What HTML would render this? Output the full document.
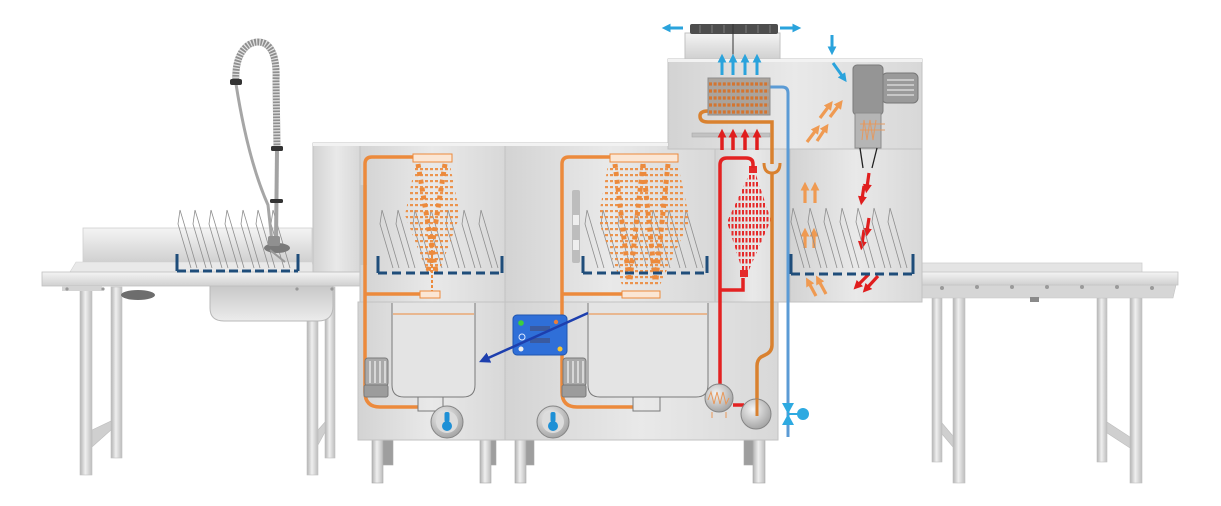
<!DOCTYPE html>
<html><head><meta charset="utf-8"><style>html,body{margin:0;padding:0;background:#fff;}svg{display:block}</style></head>
<body>
<svg width="1221" height="506" viewBox="0 0 1221 506" xmlns="http://www.w3.org/2000/svg">
<defs>
 <linearGradient id="gp" x1="0" x2="1" y1="0" y2="0"><stop offset="0" stop-color="#d3d3d3"/><stop offset="0.5" stop-color="#e9e9e9"/><stop offset="1" stop-color="#d8d8d8"/></linearGradient>
 <linearGradient id="gv" x1="0" x2="0" y1="0" y2="1"><stop offset="0" stop-color="#f4f4f4"/><stop offset="1" stop-color="#d0d0d0"/></linearGradient>
 <linearGradient id="gs" x1="0" x2="0" y1="0" y2="1"><stop offset="0" stop-color="#c8c8c8"/><stop offset="1" stop-color="#ececec"/></linearGradient>
 <linearGradient id="gl" x1="0" x2="1"><stop offset="0" stop-color="#b3b3b3"/><stop offset="0.45" stop-color="#efefef"/><stop offset="1" stop-color="#bcbcbc"/></linearGradient>
 <radialGradient id="gc" cx="0.4" cy="0.35" r="0.75"><stop offset="0" stop-color="#f4f4f4"/><stop offset="1" stop-color="#9a9a9a"/></radialGradient>
 <pattern id="po" width="5" height="6" patternUnits="userSpaceOnUse"><rect x="0" y="0" width="3" height="2.2" fill="#ec8a3c"/></pattern>
 <pattern id="pr" width="3.5" height="7" patternUnits="userSpaceOnUse"><rect x="0" y="0" width="2" height="4.5" fill="#e52a2a"/></pattern>
 <marker id="mo" viewBox="0 0 10 10" refX="3" refY="5" markerWidth="9" markerHeight="9" markerUnits="userSpaceOnUse" orient="auto"><path d="M0,0 L10,5 L0,10 Z" fill="#ef9a52"/></marker>
 <marker id="mr" viewBox="0 0 10 10" refX="3" refY="5" markerWidth="9" markerHeight="9" markerUnits="userSpaceOnUse" orient="auto"><path d="M0,0 L10,5 L0,10 Z" fill="#e01e1e"/></marker>
 <marker id="mc" viewBox="0 0 10 10" refX="3" refY="5" markerWidth="9" markerHeight="9" markerUnits="userSpaceOnUse" orient="auto"><path d="M0,0 L10,5 L0,10 Z" fill="#2aa3dc"/></marker>
 <marker id="mb" viewBox="0 0 10 10" refX="3" refY="5" markerWidth="11" markerHeight="11" markerUnits="userSpaceOnUse" orient="auto"><path d="M0,0 L10,5 L0,10 Z" fill="#1d3fae"/></marker>
</defs>

<!-- ===== LEFT TABLE ===== -->
<rect x="111" y="287" width="11" height="171" fill="url(#gl)" stroke="#c2c2c2" stroke-width="0.6"/>
<rect x="325" y="287" width="10" height="171" fill="url(#gl)" stroke="#c2c2c2" stroke-width="0.6"/>
<polygon points="92,430 111,421 111,430 92,447" fill="#cfcfcf" stroke="#bdbdbd" stroke-width="0.6"/>
<polygon points="318,430 325,422 325,432 318,445" fill="#cfcfcf" stroke="#bdbdbd" stroke-width="0.6"/>
<rect x="80" y="287" width="12" height="188" fill="url(#gl)" stroke="#c2c2c2" stroke-width="0.6"/>
<rect x="307" y="287" width="11" height="188" fill="url(#gl)" stroke="#c2c2c2" stroke-width="0.6"/>
<rect x="83" y="228" width="229" height="34" fill="url(#gv)" stroke="#cfcfcf" stroke-width="0.8"/>
<polygon points="76,262 312,262 315,272 70,272" fill="#e9e9e9" stroke="#d2d2d2" stroke-width="0.6"/>
<path d="M210,286 L210,308 Q210,321 224,321 L318,321 Q333,321 333,306 L333,286 Z" fill="url(#gs)" stroke="#b8b8b8"/>
<ellipse cx="138" cy="295" rx="17" ry="5" fill="#6d6d6d"/>
<rect x="42" y="272" width="318" height="14" fill="url(#gv)" stroke="#c0c0c0" stroke-width="0.8"/>
<rect x="62" y="286" width="40" height="5" fill="#d4d4d4"/>
<circle cx="67" cy="289" r="1.6" fill="#999"/><circle cx="103" cy="289" r="1.6" fill="#999"/>
<circle cx="297" cy="289" r="1.6" fill="#999"/><circle cx="332" cy="289" r="1.6" fill="#999"/>

<!-- plates left -->
<g stroke="#8e8e8e" stroke-width="0.8" fill="none">
<path d="M180,210 L183,220 L197,268 M180,210 L178,224 L191,268 M195,210 L198,220 L212,268 M195,210 L193,224 L206,268 M211,210 L214,220 L228,268 M211,210 L209,224 L222,268 M227,210 L230,220 L244,268 M227,210 L225,224 L238,268 M243,210 L246,220 L260,268 M243,210 L241,224 L254,268 M258,210 L261,220 L275,268 M258,210 L256,224 L269,268 M273,210 L276,220 L290,268 M273,210 L271,224 L284,268"/>
</g>
<!-- faucet -->
<path d="M236,84 Q248,160 268,205 L272,242" stroke="#a6a6a6" stroke-width="3" fill="none"/>
<line x1="277" y1="150" x2="276" y2="242" stroke="#a3a3a3" stroke-width="4"/>
<path d="M236,84 C234,55 246,42 258,42 C272,42 277,58 276,80 L277,148" stroke="#8f8f8f" stroke-width="7" fill="none"/>
<path d="M236,84 C234,55 246,42 258,42 C272,42 277,58 276,80 L277,148" stroke="#e4e4e4" stroke-width="7" fill="none" stroke-dasharray="1.2 1.8"/>
<rect x="230" y="79" width="12" height="6" rx="2" fill="#333"/>
<rect x="271" y="146" width="12" height="5" rx="1.5" fill="#333"/>
<rect x="270" y="199" width="13" height="4" rx="1.5" fill="#333"/>
<ellipse cx="277" cy="248" rx="13" ry="5" fill="#7a7a7a"/>
<rect x="268" y="236" width="12" height="10" rx="2" fill="#909090"/>
<line x1="270" y1="250" x2="285" y2="262" stroke="#999" stroke-width="2"/>
<!-- left rack -->
<g stroke="#1f4d7a" stroke-width="3" fill="none">
<path d="M177,254 V271 M298,254 V271"/>
<line x1="177" y1="271" x2="298" y2="271" stroke-dasharray="9 4"/>
</g>

<!-- ===== RIGHT TABLE ===== -->
<rect x="932" y="298" width="10" height="164" fill="url(#gl)" stroke="#c2c2c2" stroke-width="0.6"/>
<rect x="1097" y="298" width="10" height="164" fill="url(#gl)" stroke="#c2c2c2" stroke-width="0.6"/>
<polygon points="942,423 953,436 953,447 942,434" fill="#cfcfcf" stroke="#bdbdbd" stroke-width="0.6"/>
<polygon points="1107,422 1130,437 1130,448 1107,433" fill="#cfcfcf" stroke="#bdbdbd" stroke-width="0.6"/>
<rect x="953" y="283" width="12" height="200" fill="url(#gl)" stroke="#c2c2c2" stroke-width="0.6"/>
<rect x="1130" y="283" width="12" height="200" fill="url(#gl)" stroke="#c2c2c2" stroke-width="0.6"/>
<rect x="922" y="263" width="220" height="10" fill="#e4e4e4" stroke="#cfcfcf" stroke-width="0.8"/>
<polygon points="922,285 1176,285 1173,298 922,298" fill="#d6d6d6" stroke="#c4c4c4" stroke-width="0.6"/>
<rect x="922" y="272" width="256" height="13" fill="url(#gv)" stroke="#c5c5c5" stroke-width="0.8"/>
<g fill="#9a9a9a"><circle cx="942" cy="288" r="2"/><circle cx="977" cy="287" r="2"/><circle cx="1012" cy="287" r="2"/><circle cx="1047" cy="287" r="2"/><circle cx="1082" cy="287" r="2"/><circle cx="1117" cy="287" r="2"/><circle cx="1152" cy="288" r="2"/></g>
<rect x="1030" y="297" width="9" height="5" fill="#8a8a8a"/>

<!-- ===== MACHINE LEGS ===== -->
<g stroke="#a8a8a8" stroke-width="0.6">
<rect x="383" y="440" width="10" height="25" fill="#9e9e9e"/>
<rect x="372" y="440" width="11" height="43" fill="url(#gl)"/>
<rect x="490" y="440" width="6" height="25" fill="#9e9e9e"/>
<rect x="480" y="440" width="11" height="43" fill="url(#gl)"/>
<rect x="526" y="440" width="8" height="25" fill="#9e9e9e"/>
<rect x="515" y="440" width="11" height="43" fill="url(#gl)"/>
<rect x="744" y="440" width="9" height="25" fill="#9e9e9e"/>
<rect x="753" y="440" width="12" height="43" fill="url(#gl)"/>
</g>

<!-- ===== MACHINE BODY ===== -->
<g stroke="#c2c2c2" stroke-width="1">
<rect x="313" y="143" width="47" height="129" fill="url(#gp)"/>
<rect x="360" y="143" width="145" height="159" fill="url(#gp)"/>
<rect x="358" y="302" width="147" height="138" fill="url(#gp)"/>
<rect x="505" y="143" width="210" height="159" fill="url(#gp)"/>
<rect x="505" y="302" width="273" height="138" fill="url(#gp)"/>
<rect x="715" y="148" width="75" height="154" fill="url(#gp)"/>
<rect x="790" y="148" width="132" height="154" fill="url(#gp)"/>
<rect x="668" y="59" width="254" height="90" fill="url(#gp)"/>
<rect x="685" y="33" width="95" height="26" fill="url(#gv)"/>
</g>
<rect x="690" y="24" width="88" height="10" rx="2" fill="#4d4d4d"/>
<g stroke="#8a8a8a" stroke-width="0.8"><line x1="700" y1="25" x2="700" y2="33"/><line x1="712" y1="25" x2="712" y2="33"/><line x1="724" y1="25" x2="724" y2="33"/><line x1="746" y1="25" x2="746" y2="33"/><line x1="758" y1="25" x2="758" y2="33"/><line x1="770" y1="25" x2="770" y2="33"/></g>
<line x1="733" y1="24" x2="733" y2="58" stroke="#333" stroke-width="1"/>
<!-- top caps -->
<g fill="#f2f2f2"><rect x="313" y="143" width="192" height="3"/><rect x="505" y="143" width="163" height="3"/><rect x="668" y="59" width="254" height="3"/></g>
<!-- door hinge / handle -->
<rect x="360" y="185" width="7" height="80" fill="#c7c7c7"/>
<rect x="572" y="190" width="8" height="73" rx="2" fill="#bdbdbd"/>
<rect x="573" y="215" width="6" height="10" fill="#eee"/><rect x="573" y="240" width="6" height="10" fill="#eee"/>

<!-- ===== MODULE 1 ===== -->
<path d="M382,210 L385,220 L399,268 M382,210 L380,224 L393,268 M398,210 L401,220 L415,268 M398,210 L396,224 L409,268 M415,210 L418,220 L432,268 M415,210 L413,224 L426,268 M431,210 L434,220 L448,268 M431,210 L429,224 L442,268 M448,210 L451,220 L465,268 M448,210 L446,224 L459,268 M464,210 L467,220 L481,268 M464,210 L462,224 L475,268 M481,210 L484,220 L498,268 M481,210 L479,224 L492,268" stroke="#8e8e8e" stroke-width="0.8" fill="none"/>
<polygon points="415,165 450,165 460,215 438,275 428,275 405,215" fill="url(#po)" opacity="0.9"/>
<g stroke="#ec8a3c" fill="none">
<line x1="418" y1="164" x2="436" y2="272" stroke-width="5" stroke-dasharray="4 4"/>
<line x1="445" y1="164" x2="428" y2="272" stroke-width="5" stroke-dasharray="4 4"/>
<line x1="432" y1="250" x2="432" y2="291" stroke-width="2" stroke-dasharray="3 2"/>
</g>
<g stroke="#1f4d7a" stroke-width="3" fill="none">
<path d="M378,256 V273 M502,256 V273"/>
<line x1="378" y1="273" x2="502" y2="273" stroke-dasharray="9 5"/>
</g>
<path d="M413,157 L372,157 Q365,157 365,164 L365,392 Q365,407 380,407 L418,407" stroke="#ec8a3c" stroke-width="3.5" fill="none"/>
<line x1="365" y1="294" x2="420" y2="294" stroke="#ec8a3c" stroke-width="3.5"/>
<rect x="413" y="154" width="39" height="8" fill="#fbe6d4" stroke="#ec8a3c" stroke-width="1"/>
<rect x="420" y="291" width="20" height="7" fill="#fbe6d4" stroke="#ec8a3c" stroke-width="1"/>
<path d="M392,303 L392,385 Q392,397 404,397 L463,397 Q475,397 475,385 L475,303" fill="#e4e4e4" stroke="#7a7a7a" stroke-width="1"/>
<line x1="393" y1="314" x2="474" y2="314" stroke="#ec8a3c" stroke-width="1"/>
<path d="M418,397 L418,411 L443,411 L443,397" fill="none" stroke="#7a7a7a"/>
<rect x="365" y="358" width="23" height="28" rx="3" fill="#a9a9a9" stroke="#7a7a7a"/>
<g stroke="#e6e6e6" stroke-width="1.5"><line x1="370" y1="361" x2="370" y2="383"/><line x1="375" y1="361" x2="375" y2="383"/><line x1="380" y1="361" x2="380" y2="383"/><line x1="385" y1="361" x2="385" y2="383"/></g>
<rect x="364" y="385" width="24" height="12" rx="2" fill="#9c9c9c" stroke="#7a7a7a"/>
<circle cx="447" cy="422" r="16" fill="url(#gc)" stroke="#858585"/>
<circle cx="447" cy="422" r="11" fill="#dcdcdc"/>
<rect x="444.5" y="412" width="5" height="10" rx="2" fill="#1e90d6"/>
<ellipse cx="447" cy="426" rx="5" ry="5" fill="#1e90d6"/>

<!-- ===== MODULE 2 ===== -->
<path d="M587,210 L590,220 L604,268 M587,210 L585,224 L598,268 M603,210 L606,220 L620,268 M603,210 L601,224 L614,268 M620,210 L623,220 L637,268 M620,210 L618,224 L631,268 M636,210 L639,220 L653,268 M636,210 L634,224 L647,268 M653,210 L656,220 L670,268 M653,210 L651,224 L664,268 M669,210 L672,220 L686,268 M669,210 L667,224 L680,268 M686,210 L689,220 L703,268 M686,210 L684,224 L697,268" stroke="#8e8e8e" stroke-width="0.8" fill="none"/>
<polygon points="608,165 678,165 690,220 660,285 622,285 598,220" fill="url(#po)" opacity="0.9"/>
<g stroke="#ec8a3c" fill="none" stroke-width="5" stroke-dasharray="4 4">
<line x1="615" y1="164" x2="629" y2="280"/>
<line x1="643" y1="164" x2="630" y2="280"/>
<line x1="643" y1="164" x2="655" y2="280"/>
<line x1="668" y1="164" x2="656" y2="280"/>
</g>
<g stroke="#1f4d7a" stroke-width="3" fill="none">
<path d="M583,256 V273 M707,256 V273"/>
<line x1="583" y1="273" x2="707" y2="273" stroke-dasharray="9 5"/>
</g>
<path d="M610,157 L569,157 Q562,157 562,164 L562,392 Q562,407 577,407 L633,407" stroke="#ec8a3c" stroke-width="3.5" fill="none"/>
<line x1="562" y1="294" x2="622" y2="294" stroke="#ec8a3c" stroke-width="3.5"/>
<rect x="610" y="154" width="68" height="8" fill="#fbe6d4" stroke="#ec8a3c" stroke-width="1"/>
<rect x="622" y="291" width="38" height="7" fill="#fbe6d4" stroke="#ec8a3c" stroke-width="1"/>
<path d="M588,303 L588,385 Q588,397 600,397 L696,397 Q708,397 708,385 L708,303" fill="#e4e4e4" stroke="#7a7a7a" stroke-width="1"/>
<line x1="589" y1="314" x2="707" y2="314" stroke="#ec8a3c" stroke-width="1"/>
<path d="M633,397 L633,411 L660,411 L660,397" fill="none" stroke="#7a7a7a"/>
<rect x="563" y="358" width="23" height="28" rx="3" fill="#a9a9a9" stroke="#7a7a7a"/>
<g stroke="#e6e6e6" stroke-width="1.5"><line x1="568" y1="361" x2="568" y2="383"/><line x1="573" y1="361" x2="573" y2="383"/><line x1="578" y1="361" x2="578" y2="383"/><line x1="583" y1="361" x2="583" y2="383"/></g>
<rect x="562" y="385" width="24" height="12" rx="2" fill="#9c9c9c" stroke="#7a7a7a"/>
<circle cx="553" cy="422" r="16" fill="url(#gc)" stroke="#858585"/>
<circle cx="553" cy="422" r="11" fill="#dcdcdc"/>
<rect x="550.5" y="412" width="5" height="10" rx="2" fill="#1e90d6"/>
<ellipse cx="553" cy="426" rx="5" ry="5" fill="#1e90d6"/>
<!-- control panel -->
<rect x="513" y="315" width="54" height="40" rx="4" fill="#2f6fd8" stroke="#1f55b0"/>
<circle cx="521" cy="323" r="2.8" fill="#3ccf3c"/>
<circle cx="521" cy="349" r="2.5" fill="#eee"/>
<circle cx="522" cy="337" r="3" fill="none" stroke="#dfe9ff" stroke-width="1"/>
<rect x="530" y="326" width="20" height="5" fill="#3a5aa0"/>
<rect x="530" y="338" width="20" height="5" fill="#3a5aa0"/>
<circle cx="556" cy="322" r="2.2" fill="#e87d3a"/>
<circle cx="560" cy="349" r="2.5" fill="#f5c533"/>
<line x1="588" y1="313" x2="486" y2="359" stroke="#1d3fae" stroke-width="2.5" marker-end="url(#mb)"/>

<!-- ===== RINSE ZONE ===== -->
<polygon points="753,166 771,220 745,279 727,222" fill="url(#pr)"/>
<rect x="749" y="166" width="8" height="7" fill="#e52a2a"/>
<rect x="740" y="270" width="8" height="7" fill="#e52a2a"/>
<path d="M720,384 L720,165 Q720,158 727,158 L746,158 Q753,158 753,164 L753,168" stroke="#e32222" stroke-width="3.5" fill="none"/>
<path d="M720,290 L743,290 L743,278" stroke="#e32222" stroke-width="3.5" fill="none"/>
<line x1="733" y1="405" x2="744" y2="405" stroke="#e32222" stroke-width="3.5"/>
<circle cx="719" cy="398" r="14" fill="url(#gc)" stroke="#858585"/>
<path d="M708,400 L711,392 L714,404 L717,392 L720,404 L723,392 L726,404 L729,398" stroke="#e8985a" stroke-width="1" fill="none"/>
<line x1="712" y1="412" x2="712" y2="418" stroke="#e8985a"/><line x1="726" y1="412" x2="726" y2="418" stroke="#e8985a"/>
<!-- orange return pipe -->
<path d="M708,111 Q700,111 700,116 Q700,122 708,122 L772,122 L772,164" stroke="#d9812f" stroke-width="3.5" fill="none"/>
<path d="M764,163 Q764,173 772,173 Q780,173 780,163" stroke="#d9812f" stroke-width="3" fill="none"/>
<path d="M772,173 L772,345 Q772,352 765,355 L761,357 Q757,360 757,366 L757,414" stroke="#d9812f" stroke-width="3.5" fill="none"/>
<circle cx="756" cy="414" r="15" fill="url(#gc)" stroke="#858585"/>
<line x1="757" y1="399" x2="757" y2="416" stroke="#d9812f" stroke-width="3"/>
<!-- blue pipe -->
<path d="M770,87 L782,87 Q788,87 788,93 L788,437" stroke="#5b9bd5" stroke-width="3" fill="none"/>
<polygon points="782,403 794,403 788,414" fill="#2eaae1"/>
<polygon points="782,425 794,425 788,414" fill="#2eaae1"/>
<line x1="788" y1="414" x2="798" y2="414" stroke="#2eaae1" stroke-width="2"/>
<circle cx="803" cy="414" r="6" fill="#2eaae1"/>

<!-- ===== UPPER HOUSING ===== -->
<rect x="708" y="78" width="62" height="37" fill="#aaa39c" stroke="#8d8d8d"/>
<g stroke="#d47530" stroke-width="3.2" stroke-dasharray="3 1.6">
<line x1="709" y1="84" x2="769" y2="84"/><line x1="709" y1="91" x2="769" y2="91"/><line x1="709" y1="98" x2="769" y2="98"/><line x1="709" y1="105" x2="769" y2="105"/><line x1="709" y1="112" x2="769" y2="112"/>
</g>
<rect x="692" y="133" width="78" height="4" fill="#c2c2c2" stroke="#a9a9a9" stroke-width="0.6"/>
<g stroke="#2aa3dc" stroke-width="3">
<line x1="722" y1="75" x2="722" y2="60" marker-end="url(#mc)"/>
<line x1="733" y1="75" x2="733" y2="60" marker-end="url(#mc)"/>
<line x1="745" y1="75" x2="745" y2="60" marker-end="url(#mc)"/>
<line x1="757" y1="75" x2="757" y2="60" marker-end="url(#mc)"/>
<line x1="683" y1="28" x2="668" y2="28" marker-end="url(#mc)"/>
<line x1="780" y1="28" x2="795" y2="28" marker-end="url(#mc)"/>
<line x1="832" y1="35" x2="832" y2="49" marker-end="url(#mc)"/>
<line x1="833" y1="63" x2="843" y2="77" marker-end="url(#mc)"/>
</g>
<g stroke="#e01e1e" stroke-width="3.5">
<line x1="722" y1="150" x2="722" y2="135" marker-end="url(#mr)"/>
<line x1="733" y1="150" x2="733" y2="135" marker-end="url(#mr)"/>
<line x1="745" y1="150" x2="745" y2="135" marker-end="url(#mr)"/>
<line x1="757" y1="150" x2="757" y2="135" marker-end="url(#mr)"/>
</g>
<!-- blower -->
<rect x="882" y="73" width="36" height="30" rx="5" fill="#9a9a9a" stroke="#777"/>
<g stroke="#e2e2e2" stroke-width="1.2"><line x1="887" y1="80" x2="914" y2="80"/><line x1="887" y1="85" x2="914" y2="85"/><line x1="887" y1="90" x2="914" y2="90"/><line x1="887" y1="95" x2="914" y2="95"/></g>
<rect x="853" y="65" width="30" height="50" rx="4" fill="#959595" stroke="#7a7a7a"/>
<rect x="855" y="113" width="26" height="35" fill="#b5b5b5" stroke="#8a8a8a"/>
<path d="M862,140 L864,120 L867,140 L870,120 L873,140 L876,120 M860,130 L885,130 M860,124 L885,124" stroke="#e39a62" stroke-width="1" fill="none"/>
<line x1="860" y1="148" x2="863" y2="168" stroke="#222" stroke-width="1.3"/>
<line x1="877" y1="148" x2="872" y2="168" stroke="#222" stroke-width="1.3"/>
<!-- orange air arrows -->
<g stroke="#ef9a52" stroke-width="3.2">
<line x1="807" y1="142" x2="816" y2="130" marker-end="url(#mo)"/>
<line x1="817" y1="141" x2="825" y2="129" marker-end="url(#mo)"/>
<line x1="820" y1="118" x2="829" y2="106" marker-end="url(#mo)"/>
<line x1="830" y1="117" x2="839" y2="105" marker-end="url(#mo)"/>
<line x1="805" y1="203" x2="805" y2="188" marker-end="url(#mo)"/>
<line x1="815" y1="203" x2="815" y2="188" marker-end="url(#mo)"/>
<line x1="805" y1="248" x2="805" y2="234" marker-end="url(#mo)"/>
<line x1="814" y1="248" x2="814" y2="234" marker-end="url(#mo)"/>
<line x1="816" y1="296" x2="809" y2="283" marker-end="url(#mo)"/>
<line x1="826" y1="294" x2="819" y2="281" marker-end="url(#mo)"/>
</g>
<g stroke="#e01e1e" stroke-width="3.2">
<line x1="869" y1="173" x2="867" y2="187" marker-end="url(#mr)"/>
<line x1="864" y1="186" x2="862" y2="199" marker-end="url(#mr)"/>
<line x1="869" y1="218" x2="867" y2="231" marker-end="url(#mr)"/>
<line x1="864" y1="230" x2="862" y2="244" marker-end="url(#mr)"/>
<line x1="869" y1="274" x2="858" y2="285" marker-end="url(#mr)"/>
<line x1="878" y1="276" x2="867" y2="288" marker-end="url(#mr)"/>
</g>
<!-- dryer rack & plates -->
<path d="M793,208 L796,218 L810,268 M793,208 L791,222 L804,268 M810,208 L813,218 L827,268 M810,208 L808,222 L821,268 M826,208 L829,218 L843,268 M826,208 L824,222 L837,268 M842,208 L845,218 L859,268 M842,208 L840,222 L853,268 M858,208 L861,218 L875,268 M858,208 L856,222 L869,268 M874,208 L877,218 L891,268 M874,208 L872,222 L885,268 M890,208 L893,218 L907,268 M890,208 L888,222 L901,268" stroke="#8e8e8e" stroke-width="0.8" fill="none"/>
<g stroke="#1f4d7a" stroke-width="3" fill="none">
<path d="M791,254 V274 M913,254 V274"/>
<line x1="791" y1="274" x2="913" y2="274" stroke-dasharray="9 5"/>
</g>
</svg>
</body></html>
